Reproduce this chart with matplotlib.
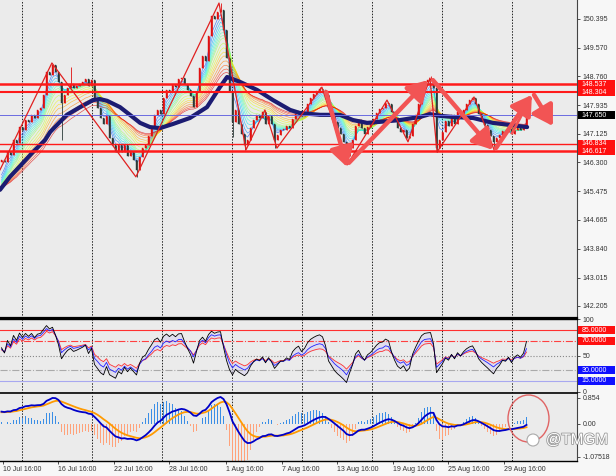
import numpy as np
import matplotlib
matplotlib.use("Agg")
import matplotlib.pyplot as plt
import matplotlib.transforms as mtransforms
import matplotlib.patheffects as pe
from matplotlib.patches import Ellipse, Rectangle

plt.rcParams['font.family'] = ['Liberation Sans', 'DejaVu Sans']

# closes, one per bar
closes = [
    146.37, 146.30, 146.60, 146.52, 146.94, 146.85, 147.31, 147.22, 147.51, 147.45,
    147.66, 147.58, 147.80, 147.86, 148.23, 148.88, 148.80, 149.08, 148.88, 148.60,
    148.00, 148.23, 148.43, 148.54, 148.43, 148.48, 148.54, 148.60, 148.68, 148.48,
    148.65, 148.08, 147.86, 147.57, 147.40, 147.63, 147.00, 146.80, 146.60, 146.80,
    146.60, 146.80, 146.49, 146.60, 146.37, 146.09, 146.46, 146.71, 146.80, 147.06,
    147.31, 147.66, 147.80, 147.68, 148.14, 148.37, 148.30, 148.51, 148.45, 148.68,
    148.71, 148.54, 148.37, 148.20, 147.88, 148.31, 149.00, 149.34, 149.20, 149.91,
    150.48, 150.40, 150.59, 150.65, 150.08, 149.28, 148.31, 147.46, 147.80, 147.40,
    147.11, 146.80, 146.94, 147.28, 147.51, 147.66, 147.57, 147.74, 147.40, 147.63,
    147.40, 146.94, 147.08, 147.23, 147.23, 147.34, 147.28, 147.54, 147.68, 147.77,
    147.63, 147.74, 147.97, 148.14, 148.25, 148.34, 148.40, 148.37, 148.23, 147.86,
    147.68, 147.46, 147.28, 147.11, 146.88, 146.49, 146.71, 146.94, 147.34, 147.51,
    147.28, 147.11, 147.31, 147.40, 147.54, 147.71, 147.83, 147.86, 148.00, 147.97,
    147.74, 147.51, 147.28, 147.17, 147.23, 147.00, 147.06, 147.40, 147.66, 147.97,
    148.37, 148.60, 148.65, 148.68, 148.43, 146.71, 146.94, 147.17, 147.48, 147.34,
    147.66, 147.40, 147.74, 147.57, 147.80, 147.97, 148.08, 148.14, 147.97, 147.68,
    147.51, 147.37, 147.23, 147.06, 146.88, 147.00, 147.08, 147.20, 147.17, 147.26,
    147.11, 147.23, 147.28, 147.23, 147.31, 147.65,
]
first_open = 146.30
wick_high = {23: 149.02, 73: 150.85, 106: 148.45, 143: 148.77, 175: 147.74}
wick_low = {20: 146.94, 45: 145.89, 77: 147.03, 81: 146.66, 91: 146.71,
            115: 146.29, 145: 146.60, 164: 146.71}

# thick navy moving average
ma_bar = [-0.5, 2.8, 6.2, 10.5, 14.5, 16.2, 19.5, 21.8, 26.2, 30.5, 32.8, 35.2, 39.5,
          42.8, 46.2, 49.5, 52.8, 57.2, 62.8, 68.5, 72.8, 75.2, 79.5, 85.2, 90.5, 96.2,
          99.5, 106.2, 112.8, 117.2, 121.8, 126.2, 132.8, 139.5, 142.8, 146.2, 150.5,
          157.2, 163.8, 169.5, 175.2]
ma_val = [145.52, 145.89, 146.20, 146.60, 146.94, 147.17, 147.46, 147.66, 147.88, 148.08,
          148.11, 148.06, 147.88, 147.66, 147.43, 147.31, 147.28, 147.40, 147.57, 147.88,
          148.45, 148.74, 148.60, 148.37, 148.08, 147.80, 147.71, 147.66, 147.66, 147.51,
          147.43, 147.46, 147.51, 147.60, 147.68, 147.63, 147.60, 147.57, 147.43, 147.37,
          147.31]

ribbon_periods = [3, 4, 5, 6, 7, 8, 9, 10, 12, 14, 16, 18, 21, 24, 27, 30]
macd_seeds = (146.05, 145.65, 0.38)
rsi_seed = (0.05, 0.04)

levels = [148.537, 148.304, 146.834, 146.617]
level_widths = [1.8, 1.5, 1.0, 1.8]
price_now = 147.650

zz_bar = [-0.5, 16.8, 44.8, 72.5, 81.5, 87.8, 91.8, 106.8, 115.2, 128.5, 135.5,
          142.8, 145.2, 157.5, 164.2]
zz_val = [146.09, 149.14, 145.89, 150.85, 146.66, 147.80, 146.71, 148.45, 146.23,
          148.08, 146.89, 148.71, 146.60, 148.17, 146.66]

arrows = [((108.2, 148.31), (115.2, 146.17)),
          ((115.8, 146.29), (142.2, 148.65)),
          ((143.8, 148.65), (163.8, 146.66)),
          ((164.8, 146.71), (176.8, 148.23)),
          ((177.5, 148.23), (183.8, 147.34))]
extra_stroke = ((170.2, 147.14), (176.2, 148.11))

price_ticks = [150.395, 149.570, 148.760, 147.935, 147.125, 146.300, 145.475,
               144.665, 143.840, 143.015, 142.205]
date_bars = [0.5, 18.8, 37.5, 55.8, 74.8, 93.5, 111.8, 130.5, 148.8, 167.5]
date_labels = ['10 Jul 16:00', '16 Jul 16:00', '22 Jul 16:00', '28 Jul 16:00',
               '1 Aug 16:00', '7 Aug 16:00', '13 Aug 16:00', '19 Aug 16:00',
               '25 Aug 16:00', '29 Aug 16:00']
grid_bars = [6.7, 30.1, 53.4, 76.7, 100.1, 123.4, 146.7, 170.1]


def ema(values, period, seed):
    a = 2.0 / (period + 1)
    out, v = [], seed
    for p in values:
        v += a * (p - v)
        out.append(v)
    return np.array(out)


def rsi(values, period, up0, dn0):
    out, up, dn, prev = [], up0, dn0, first_open
    for p in values:
        d = p - prev
        up += (max(d, 0) - up) / period
        dn += (max(-d, 0) - dn) / period
        out.append(100 * up / (up + dn))
        prev = p
    return np.array(out)


def side_label(axis, val, text, fc, half_h):
    tr = mtransforms.blended_transform_factory(axis.transAxes, axis.transData)
    axis.add_patch(Rectangle((1.002, val - half_h), 0.063, 2 * half_h, transform=tr,
                             fc=fc, ec='none', clip_on=False, zorder=9))
    axis.text(1.008, val, text, transform=tr, fontsize=5, color='white',
              va='center', ha='left', clip_on=False, zorder=10)


n = len(closes)
x = np.arange(n)
c = np.array(closes)
o = np.array([first_open] + closes[:-1])
hi = np.maximum(o, c)
lo = np.minimum(o, c)
for k, v in wick_high.items():
    hi[k] = v
for k, v in wick_low.items():
    lo[k] = v

W, H = 616, 476
fig = plt.figure(figsize=(W / 100, H / 100), dpi=100, facecolor='#f7f7f7')
ax = fig.add_axes([0, 1 - 318 / H, 577 / W, 318 / H])
ax_r = fig.add_axes([0, 1 - 393 / H, 577 / W, 74 / H])
ax_m = fig.add_axes([0, 1 - 461 / H, 577 / W, 67 / H])

for a in (ax, ax_r, ax_m):
    a.set_facecolor('#ebebeb')
    a.set_xlim(-0.5, 191.83)
    for s in ('left', 'top'):
        a.spines[s].set_visible(False)
    a.spines['right'].set_color('#444')
    a.spines['right'].set_linewidth(0.8)
    a.spines['bottom'].set_color('black')
    a.yaxis.tick_right()
    a.tick_params(axis='y', length=2.5, width=0.6, labelsize=5, pad=1.5, colors='#333')
    for gb in grid_bars:
        a.axvline(gb, color='#222', lw=0.7, ls=(0, (1.5, 1.5)), zorder=1)
ax.spines['bottom'].set_linewidth(1.6)
ax_r.spines['top'].set_visible(True)
ax_r.spines['top'].set_linewidth(1.0)
ax_r.spines['bottom'].set_linewidth(1.2)
ax_m.spines['bottom'].set_linewidth(1.0)
ax.set_xticks([])
ax_r.set_xticks([])

# main panel
ax.set_ylim(141.862, 150.937)
cols = plt.get_cmap('jet')(np.linspace(0.2, 0.92, len(ribbon_periods)))
for p, col in zip(ribbon_periods, cols):
    ax.plot(x, ema(c, p, ma_val[0]), color=col, lw=0.45, alpha=0.7, zorder=2)

ccol = np.where(c >= o, '#e01010', '#2a3a38')
ax.vlines(x, lo, hi, colors=ccol, lw=0.6, zorder=3)
ax.bar(x, np.maximum(np.abs(c - o), 0.012), bottom=np.minimum(o, c),
       width=0.6, color=ccol, edgecolor=ccol, linewidth=0.3, zorder=3)
ax.plot(ma_bar, ma_val, color='#1c1c72', lw=3.0, solid_capstyle='round', zorder=4)

for lv, lw in zip(levels, level_widths):
    ax.axhline(lv, color='#ff1a1a', lw=lw, zorder=5)
ax.axhline(price_now, color='#6a6ae0', lw=0.7, zorder=5)
ax.plot(zz_bar, zz_val, color='#e02020', lw=0.9, zorder=6)
for (s, e) in arrows:
    ax.annotate('', xy=e, xytext=s, zorder=7,
                arrowprops=dict(arrowstyle='-|>,head_length=0.9,head_width=0.55',
                                color='#f25454', lw=3.2, shrinkA=0, shrinkB=0,
                                mutation_scale=13))
ax.plot([extra_stroke[0][0], extra_stroke[1][0]], [extra_stroke[0][1], extra_stroke[1][1]],
        color='#f25454', lw=2.0, zorder=7)

ax.set_yticks(price_ticks)
ax.set_yticklabels(['%.3f' % t for t in price_ticks])
for lv in levels:
    side_label(ax, lv, '%.3f' % lv, '#ff1010', 0.11)
side_label(ax, price_now, '%.3f' % price_now, 'black', 0.11)

# RSI panel
ax_r.set_ylim(-1.5, 100.2)
r1 = rsi(closes, 7, *rsi_seed)
r2 = rsi(closes, 11, *rsi_seed)
r3 = rsi(closes, 16, *rsi_seed)
ax_r.fill_between(x, r1, r3, color='#d4cdf0', alpha=0.45, lw=0, zorder=2)
ax_r.axhline(85, color='#ff3030', lw=0.8, zorder=2)
ax_r.axhline(70, color='#ff4040', lw=0.8, ls='-.', zorder=2)
ax_r.axhline(50, color='#888', lw=0.8, ls=':', zorder=2)
ax_r.axhline(30, color='#aaa', lw=0.8, ls='-.', zorder=2)
ax_r.axhline(15, color='#a8a8f0', lw=0.8, zorder=2)
ax_r.plot(x, r3, color='#ff3030', lw=0.6, zorder=3)
ax_r.plot(x, r2, color='#2020ff', lw=0.6, zorder=3)
ax_r.plot(x, r1, color='black', lw=0.6, zorder=3)
ax_r.set_yticks([100, 50, 0])
ax_r.set_yticklabels(['100', '50', '0'])
for lv, fc in [(85, '#ff1010'), (70, '#ff1010'), (30, '#1010ff'), (15, '#1010ff')]:
    side_label(ax_r, lv, '%.4f' % lv, fc, 5.2)

# MACD panel
ax_m.set_ylim(-1.215, 0.985)
fast = ema(c, 8, macd_seeds[0])
slow = ema(c, 21, macd_seeds[1])
macd = fast - slow
signal = ema(macd, 7, macd_seeds[2])
hist = 3.0 * (macd - signal)
ax_m.bar(x, hist, width=0.6, color=np.where(hist >= 0, '#3a8ee6', '#ffa27a'), zorder=2)
ax_m.plot(x, signal, color='#ff9a00', lw=1.3, zorder=3)
ax_m.plot(x, macd, color='#0000c8', lw=1.3, zorder=4)
ax_m.set_yticks([0.854, 0.0, -1.07518])
ax_m.set_yticklabels(['0.854', '0.00', '-1.07518'])
ax_m.set_xticks(date_bars)
ax_m.set_xticklabels(date_labels, ha='left')
ax_m.tick_params(axis='x', length=2, width=0.6, labelsize=5, pad=1.5, colors='#333')

fig.add_artist(Ellipse((528.5 / W, 1 - 418.5 / H), 41 / W, 47 / H, transform=fig.transFigure,
                       fill=False, ec='#e06464', lw=1.0, zorder=20))
fig.add_artist(Ellipse((533 / W, 1 - 440 / H), 12 / W, 12 / H, transform=fig.transFigure,
                       fc='white', ec='#aaa', lw=0.8, zorder=20))
fig.text(577 / W, 1 - 440 / H, '@TMGM', fontsize=11, color='white', ha='center',
         va='center', zorder=21, path_effects=[pe.withStroke(linewidth=1.2, foreground='#9a9a9a')])

fig.savefig('out.png', dpi=100, facecolor=fig.get_facecolor())
